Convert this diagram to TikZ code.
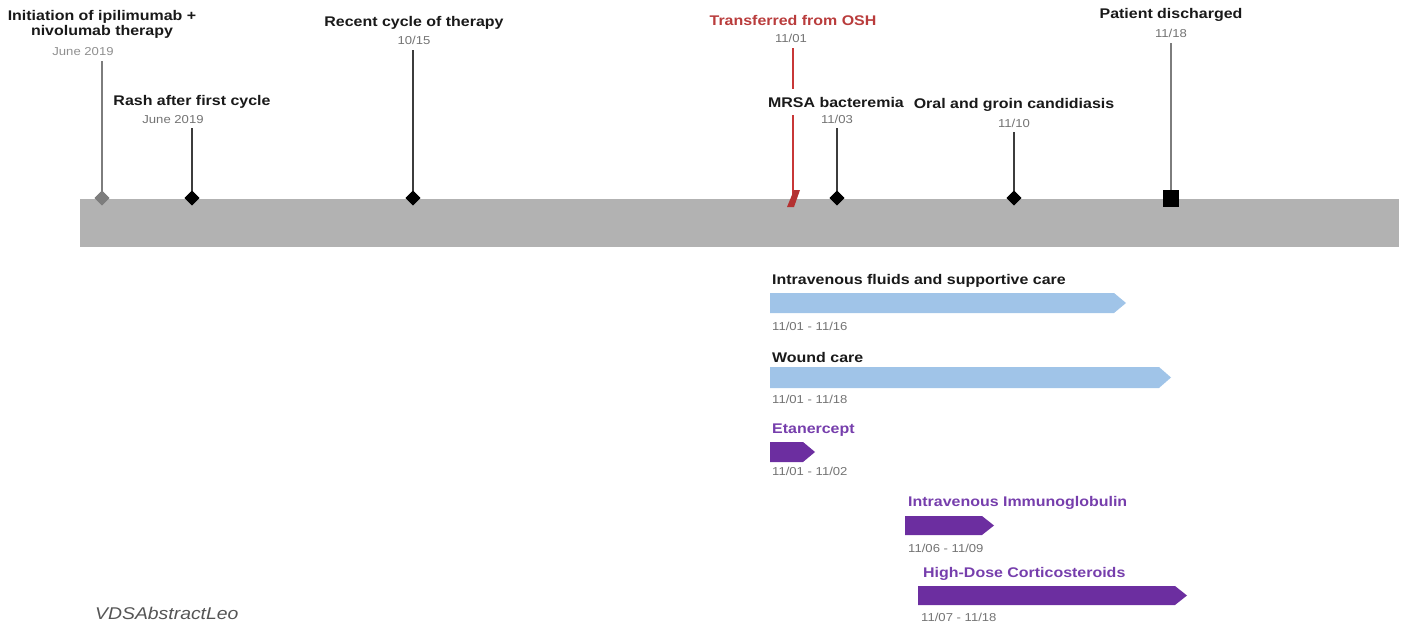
\documentclass[tikz,border=0pt]{standalone}
\usepackage{fontspec}
\setmainfont{Liberation Sans}[FakeStretch=1.14]
\usetikzlibrary{shapes.geometric}
\definecolor{barGray}{RGB}{178,178,178}
\definecolor{labBlack}{RGB}{25,25,25}
\definecolor{datGray}{RGB}{115,115,115}
\definecolor{stemGray}{RGB}{60,60,60}
\definecolor{lightStem}{RGB}{125,125,125}
\definecolor{redLine}{RGB}{200,55,55}
\definecolor{redText}{RGB}{185,60,60}
\definecolor{blueBar}{RGB}{160,196,232}
\definecolor{purpBar}{RGB}{108,46,160}
\definecolor{purpText}{RGB}{118,62,172}
\definecolor{wmGray}{RGB}{85,85,85}
\tikzset{
  lab/.style={font=\bfseries\fontsize{14}{16}\selectfont, text=labBlack, inner sep=0pt, anchor=base},
  dat/.style={font=\fontsize{11.5}{13}\selectfont, text=datGray, inner sep=0pt, anchor=base},
  stem/.style={draw=stemGray, line width=1.3pt, shorten <=5pt},
  dmd/.style={diamond, fill=black, minimum size=15pt, inner sep=0pt},
  bluebar/.style={fill=blueBar},
  purpbar/.style={fill=purpBar},
}
\begin{document}
\begin{tikzpicture}[x=1pt,y=-1pt]
\useasboundingbox (0,0) rectangle (1409,626);
% main timeline band
\fill[barGray] (80,199) rectangle (1399,247);

% ---- markers
\node[dmd, fill=lightStem] (m1) at (102,198) {};
\node[dmd] (m2) at (192,198) {};
\node[dmd] (m3) at (413,198) {};
\coordinate (m4) at (793,198);
\node[dmd] (m5) at (837,198) {};
\node[dmd] (m6) at (1014,198) {};
\node[rectangle, fill=black, minimum width=16pt, minimum height=17pt, inner sep=0pt] (m7) at (1171,198) {};

% ---- labels
\node[lab] (l1a) at (102,21) {Initiation of ipilimumab +};
\node[lab] (l1b) at (102,36) {nivolumab therapy};
\node[dat, text=datGray!80] (d1) at (83,56) {June 2019};

\node[lab] (l2) at (192,106) {Rash after first cycle};
\node[dat] (d2) at (173,123) {June 2019};

\node[lab] (l3) at (414,27) {Recent cycle of therapy};
\node[dat] (d3) at (414,45) {10/15};

\node[lab, text=redText] (l4) at (793,26) {Transferred from OSH};
\node[dat] (d4) at (791,43) {11/01};

\node[lab] (l6) at (1014,108) {Oral and groin candidiasis};
\node[dat] (d6) at (1014,127) {11/10};

\node[lab] (l7) at (1171,19) {Patient discharged};
\node[dat] (d7) at (1171,38) {11/18};

% ---- stems
\draw[stem, draw=lightStem] (d1.south -| m1) -- (m1.center);
\draw[stem] (d2.south -| m2) -- (m2.center);
\draw[stem] (d3.south -| m3) -- (m3.center);
\draw[stem, draw=redLine] (d4.south -| m4) -- ([yshift=3pt]m4);
\draw[stem, draw=lightStem] (d7.south -| m7) -- (m7.center);
\draw[stem] (d6.south -| m6) -- (m6.center);

% MRSA label covers the red stem
\node[lab, fill=white, inner xsep=0pt, inner ysep=8pt] (l5) at (836,107) {MRSA bacteremia};
\node[dat] (d5) at (837,123) {11/03};
\draw[stem] (d5.south -| m5) -- (m5.center);

% redraw markers on top of stems
\node[dmd, fill=lightStem] at (m1) {};
\node[dmd] at (m2) {};
\node[dmd] at (m3) {};
\node[dmd] at (m5) {};
\node[dmd] at (m6) {};
\node[rectangle, fill=black, minimum width=16pt, minimum height=17pt, inner sep=0pt] at (m7) {};
\fill[redLine!90!black] ([shift={(-6,9)}]m4) -- ([shift={(1,-8)}]m4) -- ([shift={(7,-8)}]m4) -- ([shift={(1,9)}]m4) -- cycle;

% ---- treatment bars
\node[lab, anchor=base west] (t1) at (772,284) {Intravenous fluids and supportive care};
\fill[bluebar] (770,293) -- (1114,293) -- (1126,303) -- (1114,313) -- (770,313) -- cycle;
\node[dat, anchor=base west] (td1) at (772,330) {11/01 - 11/16};

\node[lab, anchor=base west] (t2) at (772,362) {Wound care};
\fill[bluebar] (770,367) -- (1159,367) -- (1171,377.5) -- (1159,388) -- (770,388) -- cycle;
\node[dat, anchor=base west] (td2) at (772,403) {11/01 - 11/18};

\node[lab, anchor=base west, text=purpText] (t3) at (772,433) {Etanercept};
\fill[purpbar] (770,442) -- (803,442) -- (815,452) -- (803,462) -- (770,462) -- cycle;
\node[dat, anchor=base west] (td3) at (772,475) {11/01 - 11/02};

\node[lab, anchor=base west, text=purpText] (t4) at (908,506) {Intravenous Immunoglobulin};
\fill[purpbar] (905,516) -- (982,516) -- (994,525.5) -- (982,535) -- (905,535) -- cycle;
\node[dat, anchor=base west] (td4) at (908,552) {11/06 - 11/09};

\node[lab, anchor=base west, text=purpText] (t5) at (923,577) {High-Dose Corticosteroids};
\fill[purpbar] (918,586) -- (1175,586) -- (1187,595.5) -- (1175,605) -- (918,605) -- cycle;
\node[dat, anchor=base west] (td5) at (921,621) {11/07 - 11/18};

% ---- small text at the bottom-left edge
\node[font=\itshape\fontsize{17}{19}\selectfont, text=wmGray, inner sep=0pt, anchor=base west] (wm) at (95,619) {VDSAbstractLeo};
\end{tikzpicture}
\end{document}
